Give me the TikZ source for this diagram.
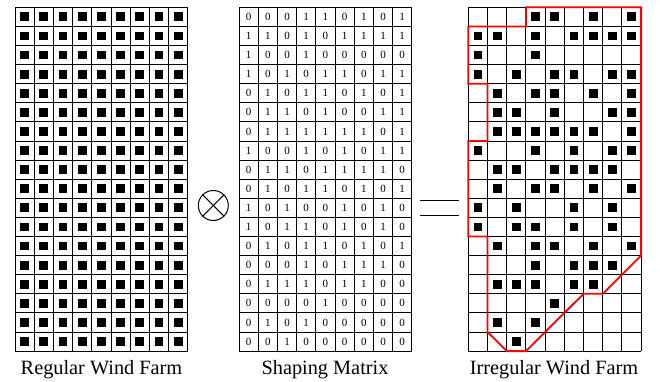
\documentclass[tikz,border=0pt]{standalone}
\usepackage{fontspec}
\setmainfont{Liberation Serif}
\tikzset{
  gridline/.style={line width=0.9pt, draw=black},
  turbine/.style={fill=black},
  shapeline/.style={draw=red, line width=1.8pt, line join=miter},
  labeltext/.style={font=\fontsize{20.3}{24}\selectfont, inner sep=0pt},
  digit/.style={font=\fontsize{11}{13}\selectfont, inner sep=0pt},
  opline/.style={line width=1pt, draw=black}
}
\newcommand{\shapingrows}{{0,0,0,1,1,0,1,0,1},{1,1,0,1,0,1,1,1,1},{1,0,0,1,0,0,0,0,0},{1,0,1,0,1,1,0,1,1},{0,1,0,1,1,0,1,0,1},{0,1,1,0,1,0,0,1,1},{0,1,1,1,1,1,1,0,1},{1,0,0,1,0,1,0,1,1},{0,1,1,0,1,1,1,1,0},{0,1,0,1,1,0,1,0,1},{1,0,1,0,0,1,0,1,0},{1,0,1,1,0,1,0,1,0},{0,1,0,1,1,0,1,0,1},{0,0,0,1,0,1,1,1,0},{0,1,1,1,0,1,1,0,0},{0,0,0,0,1,0,0,0,0},{0,1,0,1,0,0,0,0,0},{0,0,1,0,0,0,0,0,0}}
\newcommand{\farmgrid}{%
  \foreach \c in {0,...,9}{\draw[gridline] (\c,0) -- (\c,18);}
  \foreach \r in {0,...,18}{\draw[gridline] (0,\r) -- (9,\r);}
}
\begin{document}
\begin{tikzpicture}
\useasboundingbox (0,0) rectangle (660pt,-381pt);
% Regular wind farm
\begin{scope}[shift={(15pt,-7.3pt)}, x=19.2pt, y=-19.1pt]
  \foreach \c in {0,...,8}{
    \foreach \r in {0,...,17}{
      \fill[turbine] (\c+0.5,\r+0.5) ++(-4.4pt,-4.4pt) rectangle ++(8.8pt,8.8pt);
    }
  }
  \farmgrid
\end{scope}
\node[labeltext, anchor=base] (lab1) at (101.5pt,-374pt) {Regular Wind Farm};
% Otimes
\node[circle, draw, line width=1pt, minimum size=30pt, inner sep=0pt] (otimes) at (213.3pt,-205.5pt) {};
\draw[opline] (otimes.north west) -- (otimes.south east);
\draw[opline] (otimes.north east) -- (otimes.south west);
% Shaping matrix
\begin{scope}[shift={(239pt,-7.3pt)}, x=19.2pt, y=-19.1pt]
  \foreach \row [count=\r] in \shapingrows {
    \foreach \v [count=\c] in \row {
      \node[digit] at (\c-0.5,\r-0.5) {\v};
    }
  }
  \farmgrid
\end{scope}
\node[labeltext, anchor=base] (lab2) at (325pt,-374pt) {Shaping Matrix};
% Equals
\coordinate (eqa) at (420pt,-200.7pt);
\coordinate (eqb) at (459.3pt,-200.7pt);
\coordinate (eqc) at (420pt,-215.7pt);
\coordinate (eqd) at (459.3pt,-215.7pt);
\draw[opline] (eqa) -- (eqb);
\draw[opline] (eqc) -- (eqd);
% Irregular wind farm
\begin{scope}[shift={(468.3pt,-7.3pt)}, x=19.2pt, y=-19.1pt]
  \foreach \row [count=\r] in \shapingrows {
    \foreach \v [count=\c] in \row {
      \ifnum\v=1
        \fill[turbine] (\c-0.5,\r-0.5) ++(-4.4pt,-4.4pt) rectangle ++(8.8pt,8.8pt);
      \fi
    }
  }
  \farmgrid
  \draw[shapeline] (3,0) -- (9,0) -- (9,13) -- (7,15) -- (6,15) -- (3,18) -- (2,18) -- (1,17) -- (1,12) -- (0,12) -- (0,7) -- (1,7) -- (1,4) -- (0,4) -- (0,1) -- (3,1) -- cycle;
\end{scope}
\node[labeltext, anchor=base] (lab3) at (554pt,-374pt) {Irregular Wind Farm};
\end{tikzpicture}
\end{document}
